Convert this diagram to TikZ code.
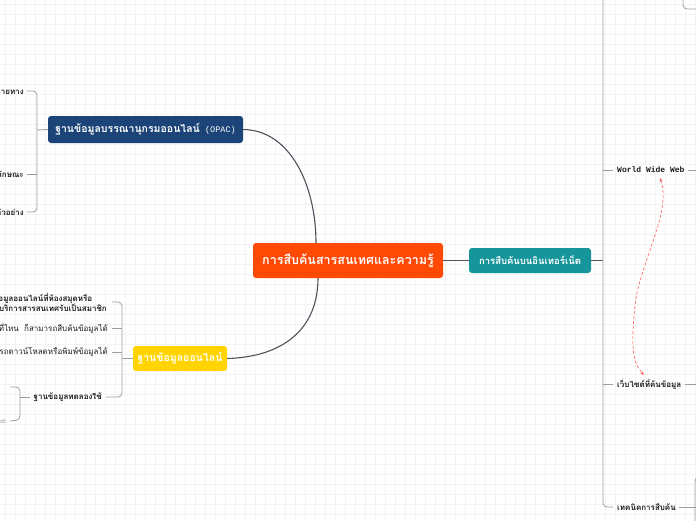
\documentclass[tikz,border=0pt]{standalone}
\usepackage{fontspec}
\setmainfont[Script=Thai]{Loma}
\newfontfamily\monof{Liberation Mono}
\usetikzlibrary{arrows.meta}
\definecolor{cent}{HTML}{FF4A06}
\definecolor{tealc}{HTML}{16959B}
\definecolor{navyc}{HTML}{1C4478}
\definecolor{yelc}{HTML}{FFD400}
\definecolor{gridc}{HTML}{F3F3F3}
\definecolor{connc}{HTML}{4D525C}
\definecolor{brc}{HTML}{9A9EA4}
\definecolor{txtc}{HTML}{1E1E1E}
\definecolor{redd}{HTML}{FF5C5C}
\tikzset{
  topic/.style={rounded corners=3pt, inner sep=0pt, text=white, font=\bfseries},
  conn/.style={draw=connc, line width=1.1pt},
  brk/.style={draw=brc, line width=0.8pt, rounded corners=4pt},
  lbl/.style={inner sep=0pt, text=txtc, font=\fontsize{8}{10}\selectfont\bfseries},
  lbln/.style={inner sep=0pt, text=txtc, font=\fontsize{8}{10}\selectfont},
}
\begin{document}
\begin{tikzpicture}[x=1pt,y=-1pt]
\useasboundingbox (0,0) rectangle (696,520);
\clip (0,0) rectangle (696,520);
\fill[white] (0,0) rectangle (696,520);
\foreach \i in {0,...,69} {\draw[gridc, line width=0.5pt] (5+\i*10,0) -- (5+\i*10,520);}
\foreach \j in {0,...,51} {\draw[gridc, line width=0.5pt] (0,4+\j*10) -- (696,4+\j*10);}

% main topics
\node[topic, fill=cent, minimum width=190pt, minimum height=35pt, font=\fontsize{12.5}{14}\selectfont\bfseries] (central) at (348,260.5) {การสืบค้นสารสนเทศและความรู้};
\node[topic, fill=tealc, minimum width=122pt, minimum height=25pt, font=\fontsize{9.5}{12}\selectfont\bfseries] (inet) at (530,260.5) {การสืบค้นบนอินเทอร์เน็ต};
\node[topic, fill=navyc, minimum width=195pt, minimum height=27pt, font=\fontsize{10.5}{12}\selectfont\bfseries] (opac) at (145.5,129.5) {ฐานข้อมูลบรรณานุกรมออนไลน์ \,{\monof\mdseries\fontsize{8.5}{10}\selectfont (OPAC)}};
\node[topic, fill=yelc, minimum width=94pt, minimum height=25pt, font=\fontsize{10.5}{12}\selectfont\bfseries] (online) at (180,358.5) {ฐานข้อมูลออนไลน์};

% central connectors
\coordinate (c1) at (316,243);
\coordinate (c2) at (318,278);
\draw[conn] (opac.east) .. controls (290,130) and (316,185) .. (c1);
\draw[conn] (c2) .. controls (318,330) and (282,357) .. (online.east);
\draw[conn] (central.east) -- (inet.west);

% right side
\coordinate (rb) at (603,260.5);
\draw[conn, line width=0.9pt] (inet.east) -- (rb);
\node[lbl, anchor=west, font=\monof\fontsize{8}{10}\selectfont\bfseries] (www) at (617,170) {World Wide Web};
\node[lbl, anchor=west] (site) at (617,384) {เว็บไซต์ที่ค้นข้อมูล};
\node[lbl, anchor=west] (tech) at (617,507) {เทคนิคการสืบค้น};
\coordinate (rtop) at (603,-5);
\draw[brk] (rtop) -- (603,507) -- (613,507);
\draw[brk] (603,170) -- (613,170);
\draw[brk] (603,384) -- (613,384);
\draw[brk] ([xshift=3pt]www.east) -- (700,170);
\draw[brk] ([xshift=3pt]site.east) -- (700,384);
\draw[brk] ([xshift=3pt]tech.east) -- (700,507);
\draw[brk] (695,525) -- (695,477) -- (705,477);
\draw[brk] (683,-5) -- (683,9) -- (700,9);

% red dashed relation
\coordinate (ra) at (660,178);
\coordinate (rz) at (644,375);
\draw[redd, line width=0.6pt, dash pattern=on 3pt off 2pt, {Stealth[length=4pt,width=3pt]}-{Stealth[length=4pt,width=3pt]}]
  (ra) .. controls (672,212) and (640,262) .. (635,305) .. controls (631,345) and (632,362) .. (rz);

% OPAC children
\node[lbl, anchor=east] (o1) at (24,91) {สามารถสืบค้นได้หลายทาง};
\node[lbl, anchor=east] (o2) at (24,174) {แสดงผลได้หลายลักษณะ};
\node[lbl, anchor=east] (o3) at (24,212) {ตัวอย่าง};
\coordinate (ob) at (37,130);
\draw[brk] ([xshift=3pt]o1.east) -- (37,91) -- (37,212) -- ([xshift=3pt]o3.east);
\draw[brk] ([xshift=3pt]o2.east) -- (37,174);
\draw[draw=brc, line width=0.9pt] (ob) -- (opac.west);

% online children
\node[lbl, anchor=east, align=left] (y1) at (107,302) {เป็นฐานข้อมูลออนไลน์ที่ห้องสมุดหรือ\\หน่วยงานบริการสารสนเทศรับเป็นสมาชิก};
\node[lbln, anchor=east] (y2) at (108,328) {ผู้ใช้อยู่ที่ไหน \ ก็สามารถสืบค้นข้อมูลได้};
\node[lbln, anchor=east] (y3) at (108,352) {สามารถดาวน์โหลดหรือพิมพ์ข้อมูลได้};
\node[lbl, anchor=east] (y4) at (102,397) {ฐานข้อมูลทดลองใช้};
\coordinate (yb) at (122,358.5);
\draw[brk] ([xshift=5pt]y1.east) -- (122,302) -- (122,397) -- ([xshift=4pt]y4.east);
\draw[brk] ([xshift=4pt]y2.east) -- (122,328);
\draw[brk] ([xshift=4pt]y3.east) -- (122,352);
\draw[draw=brc, line width=0.9pt] (yb) -- (online.west);

% trial db children
\node[lbln, anchor=east, text=gray, font=\fontsize{6}{7}\selectfont] (t2) at (7,421) {Direct:};
\draw[brk] (10,387) -- (20,387) -- (20,420) -- ([xshift=3pt]t2.east);
\draw[brk] (20,397) -- ([xshift=-3pt]y4.west);
\end{tikzpicture}
\end{document}
